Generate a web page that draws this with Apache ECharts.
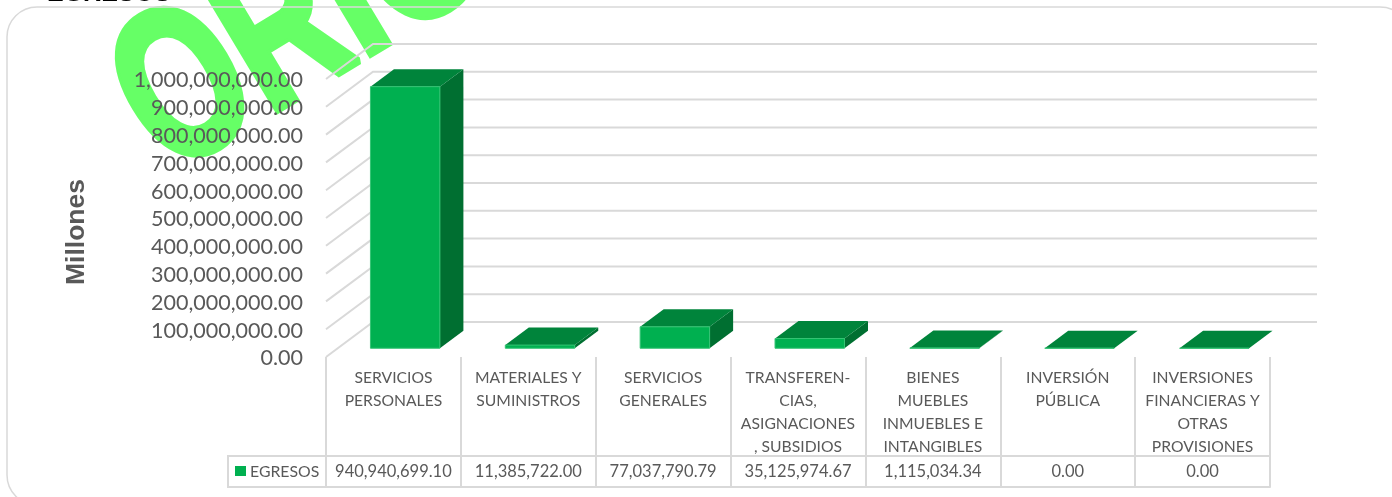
<!DOCTYPE html>
<html>
<head>
<meta charset="utf-8">
<style>html,body{margin:0;padding:0;background:#fff}#c{width:1392px;height:497px}</style>
<script src="https://cdn.jsdelivr.net/npm/echarts@6/dist/echarts.min.js"></script>
</head>
<body>
<div id="c"></div>
<script>
const categories = ['SERVICIOS\nPERSONALES','MATERIALES Y\nSUMINISTROS','SERVICIOS\nGENERALES','TRANSFEREN-\nCIAS,\nASIGNACIONES\n, SUBSIDIOS','BIENES\nMUEBLES\nINMUEBLES E\nINTANGIBLES','INVERSIÓN\nPÚBLICA','INVERSIONES\nFINANCIERAS Y\nOTRAS\nPROVISIONES'];
const egresos = [940940699.10, 11385722.00, 77037790.79, 35125974.67, 1115034.34, 0, 0];
const yTicks = [0,100000000,200000000,300000000,400000000,500000000,600000000,700000000,800000000,900000000,1000000000];
const seriesName = 'EGRESOS';
const axisTitle = 'Millones';
const fmt = v => v.toLocaleString('en-US',{minimumFractionDigits:2,maximumFractionDigits:2});

const DX = 47, DY = -35, LINE = '#d9d9d9', TXT = '#595959', FONT = 'Lato';
const FRONT = '#00B050', TOP = '#00843B', SIDE = '#006F31', EDGE = '#35C474';

const chart = echarts.init(document.getElementById('c'), null, {renderer:'canvas'});
const catAxis = (extra) => Object.assign({type:'category', data:categories, boundaryGap:true, gridIndex:0, position:'bottom'}, extra);
const poly = (pts, fill, extra) => Object.assign({type:'polygon', shape:{points:pts}, style:{fill}}, extra||{});

chart.setOption({
  animation:false,
  backgroundColor:'#fff',
  grid:{left:326, width:944, top:79, height:278, containLabel:false},
  xAxis:[
    catAxis({
      axisLine:{show:false},
      axisTick:{show:true, length:130, interval:0, lineStyle:{color:LINE, width:2}},
      axisLabel:{interval:0, margin:10, color:TXT, fontFamily:FONT, fontSize:15.7, lineHeight:22.7, align:'center', verticalAlign:'top'}
    }),
    catAxis({
      data:egresos.map(fmt), offset:99,
      axisLine:{show:true, lineStyle:{color:LINE, width:2}},
      axisTick:{show:false},
      axisLabel:{interval:0, margin:16, color:TXT, fontFamily:FONT, fontSize:16.5, verticalAlign:'middle'}
    }),
    catAxis({
      data:categories.map(()=>''), offset:130,
      axisLine:{show:true, lineStyle:{color:LINE, width:2}},
      axisTick:{show:false}, axisLabel:{show:false}
    })
  ],
  yAxis:{
    type:'value', min:0, max:1000000000, interval:100000000,
    axisLine:{show:false}, axisTick:{show:false}, splitLine:{show:false},
    axisLabel:{show:false}
  },
  series:[
    {
      type:'custom', name:'walls', coordinateSystem:'cartesian2d', silent:true, clip:false, z:2,
      data:yTicks.map(t=>[0,t]),
      renderItem(p, api){
        const c = api.coord([0, api.value(1)]);
        const half = api.size([1,0])[0]/2;
        const x0 = c[0]-half, x1 = x0 + half*2*categories.length;
        return {type:'group', children:[
          {type:'polyline', shape:{points:[[x0,c[1]],[x0+DX,c[1]+DY],[x1+DX,c[1]+DY]]},
            style:{stroke:LINE, lineWidth:2, fill:null}},
          {type:'text', x:x0-23, y:c[1]+1.5,
            style:{text:fmt(api.value(1)), fill:TXT, font:'21.5px Lato', textAlign:'right', textVerticalAlign:'middle'}}
        ]};
      }
    },
    {
      type:'custom', name:seriesName, coordinateSystem:'cartesian2d', silent:true, clip:false, z:3,
      data:egresos.map((v,i)=>[i,v]),
      renderItem(p, api){
        const base = api.coord([api.value(0), 0]);
        const topP = api.coord([api.value(0), api.value(1)]);
        const w = api.size([1,0])[0]*0.515;
        const x0 = base[0]-w/2 + DX*0.25, x1 = x0 + w;
        const yb = base[1] + DY*0.25, yt = topP[1] + DY*0.25;
        const ox = DX*0.5, oy = DY*0.5;
        return {type:'group', children:[
          poly([[x1,yt],[x1+ox,yt+oy],[x1+ox,yb+oy],[x1,yb]], SIDE),
          poly([[x0,yt],[x0+ox,yt+oy],[x1+ox,yt+oy],[x1,yt]], TOP),
          {type:'polygon', shape:{points:[[x0,yb],[x0,yt],[x1,yt],[x1,yb]]}, style:{fill:FRONT, stroke:EDGE, lineWidth:1}}
        ]};
      }
    }
  ],
  graphic:[
    {type:'text', x:137.5, y:124.4, z:-5, rotation:31*Math.PI/180, scaleX:0.7, scaleY:1,
      style:{text:'ORIGINAL', fill:'#66FF66', stroke:'#66FF66', lineWidth:8, font:'bold 215px "Liberation Sans"', textAlign:'left', textVerticalAlign:'middle'}},
    {type:'text', x:47, y:-5.6, z:-4, style:{text:seriesName, fill:'#000', font:'bold 25px "Liberation Sans"', textAlign:'left', textVerticalAlign:'middle'}},
    {type:'rect', z:-3, shape:{x:7,y:7,width:1403,height:498,r:30}, style:{fill:null, stroke:LINE, lineWidth:1.5}},
    {type:'text', x:77, y:232, z:5, rotation:Math.PI/2, style:{text:axisTitle, fill:TXT, font:'bold 26.5px "Liberation Sans"', textAlign:'center', textVerticalAlign:'middle'}},
    {type:'polyline', z:5, shape:{points:[[326,456],[228,456],[228,487],[326,487]]}, style:{stroke:LINE, lineWidth:2, fill:null}},
    {type:'rect', z:5, shape:{x:235,y:466,width:11,height:10}, style:{fill:FRONT}},
    {type:'text', x:250, y:472, z:5, style:{text:seriesName, fill:TXT, font:'15.8px Lato', textAlign:'left', textVerticalAlign:'middle'}}
  ]
});
</script>
</body>
</html>
